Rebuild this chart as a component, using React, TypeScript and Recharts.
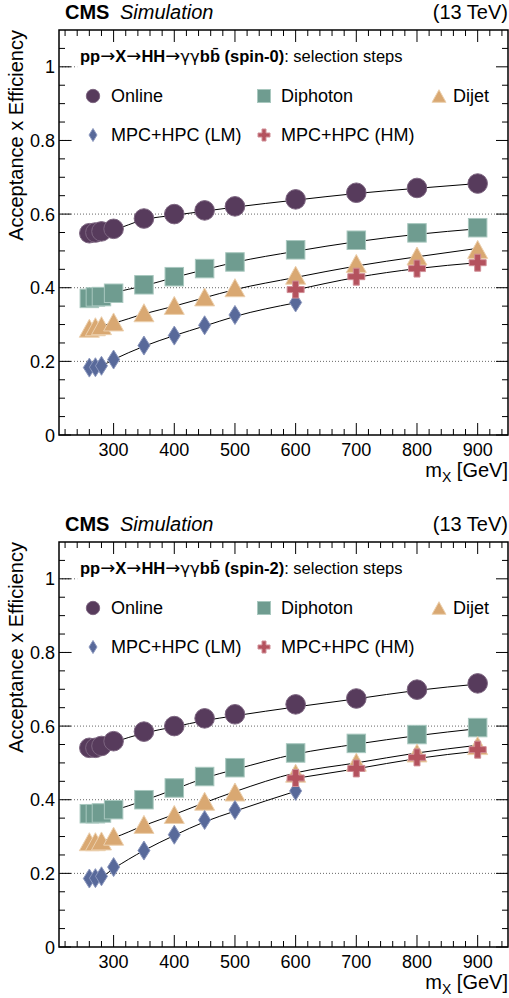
import React from "react";
import {
  ComposedChart,
  Scatter,
  Line,
  XAxis,
  YAxis,
  ReferenceLine,
  ReferenceArea,
} from "recharts";

// ---------- data ----------
const massPoints = [260, 270, 280, 300, 350, 400, 450, 500, 600, 700, 800, 900];
const massLM = [260, 270, 280, 300, 350, 400, 450, 500, 600];
const massHM = [600, 700, 800, 900];

// spin-0 markers
const online0 = [0.548, 0.550, 0.553, 0.560, 0.588, 0.600, 0.610, 0.621, 0.640, 0.658, 0.671, 0.683];
const diphoton0 = [0.371, 0.375, 0.376, 0.385, 0.408, 0.430, 0.452, 0.470, 0.503, 0.529, 0.549, 0.563];
const dijet0 = [0.290, 0.294, 0.297, 0.307, 0.332, 0.352, 0.375, 0.400, 0.434, 0.466, 0.486, 0.504];
const lm0 = [0.183, 0.184, 0.188, 0.205, 0.243, 0.270, 0.298, 0.326, 0.360];
const hm0 = [0.395, 0.430, 0.452, 0.468];
// spin-0 fitted curves
const onlineFit0 = [0.549, 0.551, 0.553, 0.558, 0.585, 0.597, 0.608, 0.619, 0.638, 0.656, 0.670, 0.683];
const diphotonFit0 = [0.374, 0.377, 0.379, 0.387, 0.405, 0.428, 0.449, 0.469, 0.499, 0.525, 0.545, 0.560];
const dijetFit0 = [0.291, 0.294, 0.297, 0.304, 0.329, 0.350, 0.373, 0.395, 0.428, 0.459, 0.484, 0.507];
const lmFit0 = [0.185, 0.187, 0.189, 0.205, 0.241, 0.270, 0.296, 0.322, 0.359];
const hmFit0 = [0.394, 0.428, 0.452, 0.468];

// spin-2 markers
const online2 = [0.541, 0.541, 0.546, 0.559, 0.585, 0.600, 0.621, 0.632, 0.659, 0.675, 0.699, 0.716];
const diphoton2 = [0.362, 0.362, 0.364, 0.373, 0.400, 0.432, 0.463, 0.487, 0.527, 0.553, 0.577, 0.596];
const dijet2 = [0.286, 0.286, 0.288, 0.301, 0.333, 0.360, 0.396, 0.421, 0.472, 0.502, 0.527, 0.547];
const lm2 = [0.186, 0.187, 0.192, 0.217, 0.262, 0.305, 0.345, 0.372, 0.424];
const hm2 = [0.459, 0.485, 0.515, 0.536];
// spin-2 fitted curves
const onlineFit2 = [0.541, 0.542, 0.545, 0.556, 0.581, 0.598, 0.615, 0.628, 0.652, 0.674, 0.697, 0.714];
const diphotonFit2 = [0.363, 0.364, 0.366, 0.372, 0.398, 0.428, 0.459, 0.482, 0.524, 0.551, 0.574, 0.593];
const dijetFit2 = [0.285, 0.286, 0.288, 0.297, 0.330, 0.360, 0.392, 0.422, 0.473, 0.500, 0.527, 0.548];
const lmFit2 = [0.187, 0.188, 0.191, 0.213, 0.262, 0.303, 0.340, 0.369, 0.423];
const hmFit2 = [0.458, 0.484, 0.512, 0.532];

// axes
const xTicks = [220, 240, 260, 280, 300, 320, 340, 360, 380, 400, 420, 440, 460, 480, 500, 520, 540, 560, 580, 600, 620, 640, 660, 680, 700, 720, 740, 760, 780, 800, 820, 840, 860, 880, 900, 920, 940];
const xMajor = [300, 400, 500, 600, 700, 800, 900];
const yTicks = [0, 0.05, 0.1, 0.15, 0.2, 0.25, 0.3, 0.35, 0.4, 0.45, 0.5, 0.55, 0.6, 0.65, 0.7, 0.75, 0.8, 0.85, 0.9, 0.95, 1.0, 1.05];
const yMajor = [0, 0.2, 0.4, 0.6, 0.8, 1.0];
const yMajorLabels = ["0", "0.2", "0.4", "0.6", "0.8", "1"];
const gridFull = [0.2, 0.4, 0.6];

// ---------- layout / style ----------
const W = 509;
const H = 486;
const PL = 59;
const PR = 508;
const PT = 30;
const PB = 435;
const FONT = "'Liberation Sans', Arial, Helvetica, sans-serif";
const SYM = "'DejaVu Sans', sans-serif";

const C_ONLINE = "#573b5c";
const C_DIPHOTON = "#6f9c90";
const C_DIJET = "#d9a872";
const C_LM = "#58699a";
const C_HM = "#b4525e";

const toPts = (xs: number[], ys: number[]) => xs.map((x, i) => ({ x, y: ys[i] }));

// ---------- marker shapes ----------
const CircleM = ({ cx, cy, r = 9.8 }: any) => (
  <circle cx={cx} cy={cy} r={r} fill={C_ONLINE} stroke="#7d6681" strokeWidth={1} />
);
const SquareM = ({ cx, cy, s = 18.5 }: any) => (
  <rect x={cx - s / 2} y={cy - s / 2} width={s} height={s} fill={C_DIPHOTON} stroke="#a9c8bf" strokeWidth={1} />
);
const TriangleM = ({ cx, cy, s = 20 }: any) => {
  const h = s * 0.9;
  return (
    <polygon
      points={`${cx},${cy - h / 2} ${cx + s / 2},${cy + h / 2} ${cx - s / 2},${cy + h / 2}`}
      fill={C_DIJET}
      stroke="#ecd0ae"
      strokeWidth={1}
    />
  );
};
const DiamondM = ({ cx, cy, w = 12, h = 19 }: any) => (
  <polygon
    points={`${cx},${cy - h / 2} ${cx + w / 2},${cy} ${cx},${cy + h / 2} ${cx - w / 2},${cy}`}
    fill={C_LM}
    stroke="#8b97bd"
    strokeWidth={1}
  />
);
const CrossM = ({ cx, cy, s = 17, a = 6 }: any) => {
  const o = s / 2;
  const t = a / 2;
  const d = `M${cx - t},${cy - o} H${cx + t} V${cy - t} H${cx + o} V${cy + t} H${cx + t} V${cy + o} H${cx - t} V${cy + t} H${cx - o} V${cy - t} H${cx - t} Z`;
  return <path d={d} fill={C_HM} stroke="#d08e96" strokeWidth={1} />;
};

// ---------- ticks ----------
const XTick = (props: any) => {
  const { x, payload } = props;
  const v = payload.value;
  const major = xMajor.includes(v);
  const len = major ? 12 : 6;
  return (
    <g>
      <line x1={x} y1={PB} x2={x} y2={PB - len} stroke="#000" strokeWidth={1} />
      <line x1={x} y1={PT} x2={x} y2={PT + len} stroke="#000" strokeWidth={1} />
      {major && (
        <text x={x} y={PB + 21} textAnchor="middle" fontSize={18} fontFamily={FONT} fill="#000">
          {String(v)}
        </text>
      )}
    </g>
  );
};

const YTick = (props: any) => {
  const { y, payload } = props;
  const v = payload.value;
  const idx = yMajor.findIndex((m) => Math.abs(m - v) < 1e-6);
  const major = idx >= 0;
  const len = major ? 12 : 6;
  return (
    <g>
      <line x1={PL} y1={y} x2={PL + len} y2={y} stroke="#000" strokeWidth={1} />
      <line x1={PR} y1={y} x2={PR - len} y2={y} stroke="#000" strokeWidth={1} />
      {major && (
        <text x={55} y={y + 6.5} textAnchor="end" fontSize={18} fontFamily={FONT} fill="#000">
          {yMajorLabels[idx]}
        </text>
      )}
    </g>
  );
};

// ---------- panel ----------
type PanelProps = {
  spin: string;
  online: number[];
  diphoton: number[];
  dijet: number[];
  lm: number[];
  hm: number[];
  onlineFit: number[];
  diphotonFit: number[];
  dijetFit: number[];
  lmFit: number[];
  hmFit: number[];
  top: number;
};

const Arrow = () => (
  <tspan fontFamily={SYM} fontWeight="normal" fontSize={18}>→</tspan>
);

const Panel = (p: PanelProps) => {
  return (
    <div style={{ position: "absolute", left: 0, top: p.top, width: W, height: H }}>
      <ComposedChart width={W} height={H} margin={{ top: PT, right: W - PR, left: 0, bottom: 21 }}>
        <XAxis
          type="number"
          dataKey="x"
          domain={[210, 950]}
          ticks={xTicks}
          interval={0}
          height={30}
          axisLine={false}
          tickLine={false}
          tick={<XTick />}
          allowDataOverflow
        />
        <YAxis
          type="number"
          dataKey="y"
          domain={[0, 1.1]}
          ticks={yTicks}
          interval={0}
          width={PL}
          axisLine={false}
          tickLine={false}
          tick={<YTick />}
          allowDataOverflow
        />
        {gridFull.map((g) => (
          <ReferenceLine key={g} y={g} stroke="#666" strokeDasharray="1 2" strokeWidth={1} />
        ))}
        <ReferenceLine segment={[{ x: 210, y: 0.8 }, { x: 233, y: 0.8 }]} stroke="#666" strokeDasharray="1 2" />
        <ReferenceLine segment={[{ x: 210, y: 1.0 }, { x: 240, y: 1.0 }]} stroke="#666" strokeDasharray="1 2" />
        <ReferenceArea x1={210} x2={950} y1={0} y2={1.1} fill="none" fillOpacity={0} stroke="#000" strokeWidth={1.5} />

        <Scatter data={toPts(massPoints, p.online)} shape={<CircleM />} isAnimationActive={false} />
        <Scatter data={toPts(massPoints, p.diphoton)} shape={<SquareM />} isAnimationActive={false} />
        <Scatter data={toPts(massPoints, p.dijet)} shape={<TriangleM />} isAnimationActive={false} />
        <Scatter data={toPts(massLM, p.lm)} shape={<DiamondM />} isAnimationActive={false} />
        <Scatter data={toPts(massHM, p.hm)} shape={<CrossM />} isAnimationActive={false} />

        <Line data={toPts(massPoints, p.onlineFit)} dataKey="y" type="monotone" stroke="#000" strokeWidth={1} dot={false} isAnimationActive={false} />
        <Line data={toPts(massPoints, p.diphotonFit)} dataKey="y" type="monotone" stroke="#000" strokeWidth={1} dot={false} isAnimationActive={false} />
        <Line data={toPts(massPoints, p.dijetFit)} dataKey="y" type="monotone" stroke="#000" strokeWidth={1} dot={false} isAnimationActive={false} />
        <Line data={toPts(massLM, p.lmFit)} dataKey="y" type="monotone" stroke="#000" strokeWidth={1} dot={false} isAnimationActive={false} />
        <Line data={toPts(massHM, p.hmFit)} dataKey="y" type="monotone" stroke="#000" strokeWidth={1} dot={false} isAnimationActive={false} />
      </ComposedChart>

      <svg
        width={W}
        height={H}
        style={{ position: "absolute", left: 0, top: 0, pointerEvents: "none", overflow: "visible" }}
        fontFamily={FONT}
      >
        <text x={65} y={19} fontSize={20} fontWeight="bold" fill="#000">CMS</text>
        <text x={120} y={19} fontSize={20} fontStyle="italic" fill="#000">Simulation</text>
        <text x={508} y={19} fontSize={20} textAnchor="end" fill="#000">(13 TeV)</text>
        <text x={23} y={PT} fontSize={20} textAnchor="end" transform={`rotate(-90 23 ${PT})`} fill="#000">
          Acceptance x Efficiency
        </text>
        <text x={508} y={PB + 42} fontSize={20} textAnchor="end" fill="#000">
          m<tspan fontSize={14} dy={5}>X</tspan>
          <tspan dy={-5}> [GeV]</tspan>
        </text>

        <text x={80} y={62} fontSize={16.5} fill="#000">
          <tspan fontWeight="bold">pp</tspan>
          <Arrow />
          <tspan fontWeight="bold">X</tspan>
          <Arrow />
          <tspan fontWeight="bold">HH</tspan>
          <Arrow />
          <tspan fontFamily={SYM} fontWeight="normal">γγ</tspan>
          <tspan fontWeight="bold">bb̄ (spin-{p.spin})</tspan>
          <tspan>: selection steps</tspan>
        </text>

        <CircleM cx={93} cy={96} r={6.7} />
        <text x={111} y={102} fontSize={18} fill="#000">Online</text>
        <SquareM cx={264} cy={96} s={13} />
        <text x={281} y={102} fontSize={18} fill="#000">Diphoton</text>
        <TriangleM cx={439} cy={96} s={14} />
        <text x={453} y={102} fontSize={18} fill="#000">Dijet</text>

        <DiamondM cx={93} cy={135} w={8} h={13} />
        <text x={111} y={141} fontSize={18} fill="#000">MPC+HPC (LM)</text>
        <CrossM cx={264} cy={135} s={12} a={4} />
        <text x={281} y={141} fontSize={18} fill="#000">MPC+HPC (HM)</text>
      </svg>
    </div>
  );
};

export default function App() {
  return (
    <div style={{ position: "absolute", left: 0, top: 0, width: W, height: 998, background: "#fff" }}>
      <Panel
        spin="0"
        top={0}
        online={online0}
        diphoton={diphoton0}
        dijet={dijet0}
        lm={lm0}
        hm={hm0}
        onlineFit={onlineFit0}
        diphotonFit={diphotonFit0}
        dijetFit={dijetFit0}
        lmFit={lmFit0}
        hmFit={hmFit0}
      />
      <Panel
        spin="2"
        top={512}
        online={online2}
        diphoton={diphoton2}
        dijet={dijet2}
        lm={lm2}
        hm={hm2}
        onlineFit={onlineFit2}
        diphotonFit={diphotonFit2}
        dijetFit={dijetFit2}
        lmFit={lmFit2}
        hmFit={hmFit2}
      />
    </div>
  );
}
